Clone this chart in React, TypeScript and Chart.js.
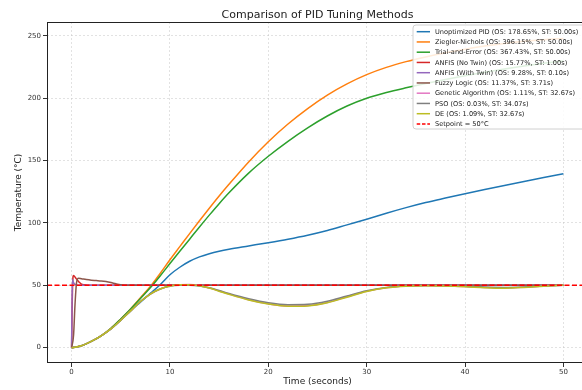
import { useEffect, useRef } from 'react';
import { Chart, registerables } from 'chart.js';

Chart.register(...registerables);

const TITLE = 'Comparison of PID Tuning Methods';
const X_LABEL = 'Time (seconds)';
const Y_LABEL = 'Temperature (°C)';
const X_TICKS = [0, 10, 20, 30, 40, 50];
const Y_TICKS = [0, 50, 100, 150, 200, 250];
const X_MIN = -2.5;
const X_MAX = 52.5;
const Y_MIN = -12.3;
const Y_MAX = 261.2;
const SETPOINT = 50;

// Time grid for the slow responses (seconds)
const T_SLOW = [0, 1, 2, 3, 4, 5, 6, 7, 8, 9, 10, 11, 12, 13, 14, 15, 16, 18, 20, 22, 24, 26, 28, 30, 32, 34, 36, 38, 40, 42, 44, 46, 48, 50];
const UNOPTIMIZED = [0, 1.5, 5, 9.5, 15, 22, 29.5, 36.5, 43.5, 50.5, 58.5, 64.5, 69.3, 72.8, 75.4, 77.4, 79, 81.6, 84.2, 87, 90.2, 94, 98.5, 103, 107.8, 112.3, 116.4, 120, 123.5, 126.9, 130.1, 133.2, 136.4, 139.5];
const ZIEGLER = [0, 1.5, 5, 9.5, 15.5, 23, 31, 40, 49, 59.5, 70.5, 81, 91.5, 101.8, 111.8, 121.6, 131, 149, 165.2, 179.4, 191.8, 202.6, 211.6, 219, 224.8, 229.4, 233.2, 236.5, 239.4, 241.9, 244, 245.7, 247, 248];
const TRIAL = [0, 1.5, 5, 9.5, 15.5, 23, 31, 39.5, 48, 57.5, 67.5, 77.3, 87, 96.8, 106.3, 115.5, 124.2, 140, 153.5, 165.5, 176.3, 185.8, 193.8, 200, 204.6, 208.4, 211.9, 215.1, 218.1, 220.9, 223.5, 225.9, 228.1, 230];
const GENETIC = [0, 1.5, 5, 9.5, 15, 22, 29.5, 37, 43, 47, 49.5, 50.4, 50.6, 49.7, 47.9, 45.5, 43, 38.5, 35.2, 33.5, 33.8, 36.3, 40.8, 45.2, 48.1, 49.4, 49.7, 49.5, 49, 48.3, 47.9, 48.4, 49.4, 50];
const PSO = [0, 1.5, 5, 9.5, 15, 22, 29.5, 37, 43, 47, 49.4, 50, 50, 49.5, 48, 45.8, 43.4, 39.2, 36, 34.5, 34.8, 37.2, 41.5, 45.6, 48.2, 49.4, 49.8, 49.7, 49.3, 48.6, 48.3, 48.7, 49.5, 50];
const DE = [0, 1.5, 5, 9.5, 15, 22, 29.5, 37, 43, 47, 49.5, 50.4, 50.5, 49.6, 47.8, 45.3, 42.8, 38.3, 35, 33.2, 33.5, 36, 40.5, 45, 48, 49.3, 49.6, 49.4, 48.9, 48.1, 47.7, 48.3, 49.3, 50];

// Fast responses
const T_ANFIS_NO_TWIN = [0, 0.05, 0.1, 0.2, 0.4, 0.6, 0.8, 1.0, 1.3, 1.6, 2, 3, 5, 10, 20, 30, 40, 50];
const ANFIS_NO_TWIN = [0, 30, 50, 57.9, 56, 54, 52.3, 51, 50.4, 50.1, 50, 50, 50, 50, 50, 50, 50, 50];
const T_ANFIS_TWIN = [0, 0.05, 0.1, 0.15, 0.25, 0.4, 0.6, 1, 5, 20, 50];
const ANFIS_TWIN = [0, 40, 54.6, 53, 51.5, 50.5, 50.1, 50, 50, 50, 50];
const T_FUZZY = [0, 0.2, 0.35, 0.5, 0.7, 1.0, 1.5, 2, 2.5, 3, 3.5, 4, 4.5, 5, 5.5, 6, 10, 20, 50];
const FUZZY = [0, 10, 35, 52, 55.7, 55.3, 54.6, 54.1, 53.8, 53.5, 53, 52.2, 51.2, 50.4, 50.1, 50, 50, 50, 50];

const LABELS = [
  'Unoptimized PID (OS: 178.65%, ST: 50.00s)',
  'Ziegler-Nichols (OS: 396.15%, ST: 50.00s)',
  'Trial-and-Error (OS: 367.43%, ST: 50.00s)',
  'ANFIS (No Twin) (OS: 15.77%, ST: 1.00s)',
  'ANFIS (With Twin) (OS: 9.28%, ST: 0.10s)',
  'Fuzzy Logic (OS: 11.37%, ST: 3.71s)',
  'Genetic Algorithm (OS: 1.11%, ST: 32.67s)',
  'PSO (OS: 0.03%, ST: 34.07s)',
  'DE (OS: 1.09%, ST: 32.67s)',
  'Setpoint = 50°C',
];
const COLORS = ['#1f77b4', '#ff7f0e', '#2ca02c', '#d62728', '#9467bd', '#8c564b', '#e377c2', '#7f7f7f', '#bcbd22', '#ff0000'];

const FONT = '"DejaVu Sans", "Liberation Sans", sans-serif';

const pts = (t: number[], v: number[]) => t.map((x, i) => ({ x, y: v[i] }));

const overlayPlugin = {
  id: 'overlay',
  afterDraw(chart: any) {
    const { ctx, chartArea: a } = chart;
    ctx.save();
    ctx.strokeStyle = '#222';
    ctx.lineWidth = 1;
    ctx.setLineDash([]);
    ctx.strokeRect(a.left + 0.5, a.top + 0.5, a.right - a.left - 1, a.bottom - a.top - 1);

    const cx = (a.left + a.right) / 2;
    ctx.fillStyle = '#222';
    ctx.textAlign = 'center';
    ctx.textBaseline = 'middle';
    ctx.font = `11px ${FONT}`;
    ctx.fillText(TITLE, cx, 15);
    ctx.font = `9px ${FONT}`;
    ctx.fillText(X_LABEL, cx, 382);
    ctx.save();
    ctx.translate(19, (a.top + a.bottom) / 2);
    ctx.rotate(-Math.PI / 2);
    ctx.fillText(Y_LABEL, 0, 0);
    ctx.restore();

    // legend
    const lx = 413, ly = 25, lw = 175, lh = 104;
    ctx.beginPath();
    const r = 3;
    ctx.moveTo(lx + r, ly);
    ctx.lineTo(lx + lw - r, ly);
    ctx.arcTo(lx + lw, ly, lx + lw, ly + r, r);
    ctx.lineTo(lx + lw, ly + lh - r);
    ctx.arcTo(lx + lw, ly + lh, lx + lw - r, ly + lh, r);
    ctx.lineTo(lx + r, ly + lh);
    ctx.arcTo(lx, ly + lh, lx, ly + lh - r, r);
    ctx.lineTo(lx, ly + r);
    ctx.arcTo(lx, ly, lx + r, ly, r);
    ctx.closePath();
    ctx.fillStyle = 'rgba(255,255,255,0.85)';
    ctx.fill();
    ctx.strokeStyle = '#d0d0d0';
    ctx.lineWidth = 1;
    ctx.stroke();

    ctx.font = `6.6px ${FONT}`;
    ctx.textAlign = 'left';
    ctx.textBaseline = 'middle';
    LABELS.forEach((label, i) => {
      const y = 31.7 + i * 10.25;
      ctx.strokeStyle = COLORS[i];
      ctx.lineWidth = 1.5;
      ctx.setLineDash(i === LABELS.length - 1 ? [3.5, 1.8] : []);
      ctx.beginPath();
      ctx.moveTo(416.7, y);
      ctx.lineTo(430, y);
      ctx.stroke();
      ctx.setLineDash([]);
      ctx.fillStyle = '#222';
      ctx.fillText(label, 435, y + 0.5);
    });
    ctx.restore();
  },
};

export default function App() {
  const ref = useRef<HTMLCanvasElement>(null);

  useEffect(() => {
    if (!ref.current) return;
    const series = [
      pts(T_SLOW, UNOPTIMIZED),
      pts(T_SLOW, ZIEGLER),
      pts(T_SLOW, TRIAL),
      pts(T_ANFIS_NO_TWIN, ANFIS_NO_TWIN),
      pts(T_ANFIS_TWIN, ANFIS_TWIN),
      pts(T_FUZZY, FUZZY),
      pts(T_SLOW, GENETIC),
      pts(T_SLOW, PSO),
      pts(T_SLOW, DE),
      pts([X_MIN, X_MAX], [SETPOINT, SETPOINT]),
    ];
    const n = series.length;
    const datasets = series.map((data, i) => ({
      label: LABELS[i],
      data,
      borderColor: COLORS[i],
      backgroundColor: COLORS[i],
      borderWidth: 1.5,
      borderDash: i === n - 1 ? [5, 2.5] : [],
      pointRadius: 0,
      fill: false,
      cubicInterpolationMode: 'monotone' as const,
      order: n - i,
    }));

    const chart = new Chart(ref.current, {
      type: 'line',
      data: { datasets },
      plugins: [overlayPlugin],
      options: {
        animation: false,
        responsive: false,
        devicePixelRatio: 1,
        layout: { padding: { left: 0, top: 22, right: 12, bottom: 0 } },
        plugins: { legend: { display: false }, title: { display: false }, tooltip: { enabled: false } },
        scales: {
          x: {
            type: 'linear',
            min: X_MIN,
            max: X_MAX,
            afterBuildTicks: (s: any) => { s.ticks = X_TICKS.map((v) => ({ value: v })); },
            afterFit: (s: any) => { s.height = 27; },
            ticks: { color: '#333', font: { family: FONT, size: 7 }, padding: 1, maxRotation: 0, autoSkip: false },
            grid: { color: 'rgba(190,190,190,0.55)', lineWidth: 0.8, tickLength: 4, tickColor: '#333', tickWidth: 1, tickBorderDash: [] },
            border: { display: false, dash: [2, 2] },
          },
          y: {
            type: 'linear',
            min: Y_MIN,
            max: Y_MAX,
            afterBuildTicks: (s: any) => { s.ticks = Y_TICKS.map((v) => ({ value: v })); },
            afterFit: (s: any) => { s.width = 47; },
            ticks: { color: '#333', font: { family: FONT, size: 7 }, padding: 2, autoSkip: false },
            grid: { color: 'rgba(190,190,190,0.55)', lineWidth: 0.8, tickLength: 4, tickColor: '#333', tickWidth: 1, tickBorderDash: [] },
            border: { display: false, dash: [2, 2] },
          },
        },
      },
    });
    return () => chart.destroy();
  }, []);

  return (
    <div style={{ position: 'fixed', left: 0, top: 0, width: 582, height: 390, overflow: 'hidden', background: '#fff' }}>
      <canvas ref={ref} width={600} height={390} style={{ display: 'block', width: 600, height: 390 }} />
    </div>
  );
}
